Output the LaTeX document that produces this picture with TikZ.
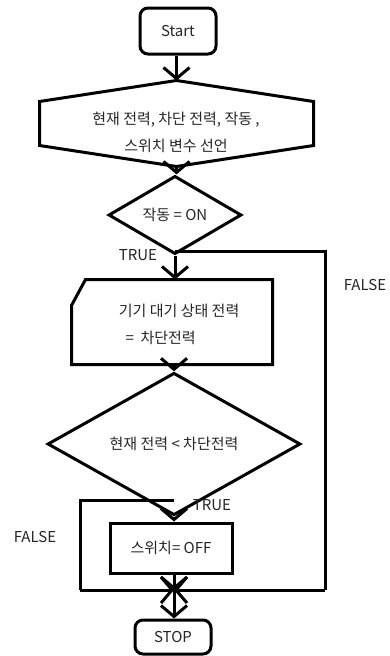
\documentclass[tikz,border=0pt]{standalone}
\usepackage{fontspec}
\setmainfont{Noto Sans CJK KR}
\usetikzlibrary{arrows.meta,shapes.geometric,calc}
\begin{document}
\begin{tikzpicture}[x=1pt,y=-1pt,
  line width=3pt,
  arr/.style={-{Straight Barb[length=11pt,width=26pt,line width=3pt]}},
  lbl/.style={font=\fontsize{15}{27}\selectfont, text=black!85},
  term/.style={draw, rounded corners=8pt, minimum width=76pt, minimum height=46pt, inner sep=0pt, lbl},
  dec/.style={draw, diamond, inner sep=0pt, lbl},
  proc/.style={draw, minimum width=122pt, minimum height=50pt, inner sep=0pt, lbl},
  ]
\useasboundingbox[fill=white] (0,0) rectangle (390,656);

% shapes
\node[term] (start) at (178,31) {Start};

\node[minimum width=271pt, minimum height=83pt, inner sep=0pt] (hex) at (176.5,123.5) {};
\draw (hex.north) -- ($(hex.north east)+(0,21)$) -- ($(hex.south east)+(0,-21)$)
  -- (hex.south) -- ($(hex.south west)+(0,-21)$) -- ($(hex.north west)+(0,21)$) -- cycle;
\node[lbl, align=center] (hextxt) at (176,132) {현재 전력, 차단 전력, 작동 ,\\스위치 변수 선언};

\node[dec, minimum width=133pt, minimum height=50pt] (d1) at (175,215) {작동 = ON};

\node[minimum width=198pt, minimum height=82pt, inner sep=0pt] (box2) at (172,322) {};
\draw ($(box2.north west)+(14,0)$) -- (box2.north east) -- (box2.south east)
  -- (box2.south west) -- ($(box2.north west)+(0,26)$) -- cycle;
\node[lbl, align=left, anchor=west] (box2txt) at (114,324) {기기 대기 상태 전력\\\ \ =\ \ 차단전력};

\node[dec, minimum width=253pt, minimum height=82pt] (d2) at (174,444) {현재 전력 < 차단전력};

\node[proc] (box3) at (171,548) {스위치= OFF};

\node[term, minimum height=34pt] (stop) at (173,637) {STOP};

% labels
\node[lbl] (t1) at (138,255) {TRUE};
\node[lbl] (f1) at (365,285) {FALSE};
\node[lbl] (t2) at (212,505) {TRUE};
\node[lbl] (f2) at (35,537) {FALSE};

% junction coordinates
\coordinate (m) at (174,590);
\coordinate (fj) at (175,251);
\coordinate (rc1) at (325,251);
\coordinate (rc2) at (325,590);
\coordinate (tj) at (174,500);
\coordinate (lc1) at (80,500);
\coordinate (lc2) at (80,590);

% connectors
\draw[arr] (start.south -| hex.north) -- (hex.north);
\draw[arr] (hex.south) -- (hex.south |- d1.north);
\draw[arr] (d1.south) -- (d1.south |- box2.north);
\draw (fj) -- (rc1) -- (rc2);
\draw[arr] (rc2) -- (m);
\draw[arr] (d2.north |- box2.south) -- (d2.north);
\draw[arr] (d2.south) -- (d2.south |- box3.north);
\draw (tj) -- (lc1) -- (lc2);
\draw[arr] (lc2) -- (m);
\draw[arr] (m |- box3.south) -- (m);
\draw[arr] (m) -- (m |- stop.north);
\end{tikzpicture}
\end{document}
